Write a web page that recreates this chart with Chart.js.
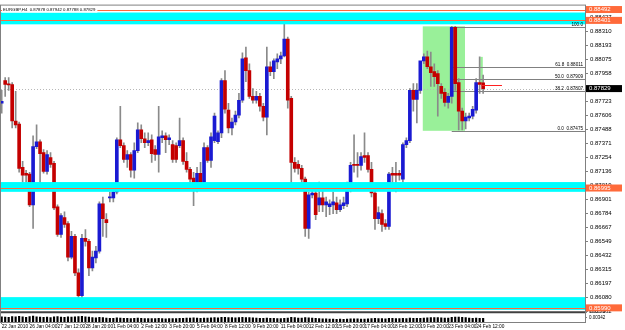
<!DOCTYPE html>
<html><head><meta charset="utf-8">
<script src="https://cdn.jsdelivr.net/npm/chart.js@4.4.1/dist/chart.umd.min.js"></script>
<style>html,body{margin:0;padding:0;background:#fff;overflow:hidden}</style>
</head><body>
<canvas id="c" width="625" height="330"></canvas>
<script>
const chartTitle = "EURGBP,H4  0.87878 0.87942 0.87788 0.87829";
const timeTickLabels = ["22 Jan 2010","26 Jan 04:00","27 Jan 12:00","28 Jan 20:00","1 Feb 04:00","2 Feb 12:00","3 Feb 20:00","5 Feb 04:00","8 Feb 12:00","9 Feb 20:00","11 Feb 04:00","12 Feb 12:00","15 Feb 20:00","17 Feb 04:00","18 Feb 12:00","19 Feb 20:00","23 Feb 04:00","24 Feb 12:00"];
const priceTickValues = [0.88427,0.88310,0.88193,0.88075,0.87958,0.87841,0.87723,0.87606,0.87488,0.87371,0.87254,0.87136,0.87019,0.86901,0.86784,0.86667,0.86549,0.86432,0.86315,0.86197,0.86080,0.85962];
const indicatorTickValues = [0.00771,0.00342];

const opens = [0.87706,0.87896,0.87863,0.87863,0.87557,0.87532,0.87168,0.87119,0.87111,0.86854,
0.87342,0.87383,0.87292,0.87135,0.87251,0.87202,0.86838,0.86606,0.86747,0.86697,
0.86416,0.86590,0.86284,0.86093,0.86573,0.86548,0.86325,0.86408,0.86466,0.86862,
0.86730,0.86912,0.86912,0.86962,0.87400,0.87350,0.87235,0.87276,0.87144,0.87309,
0.87483,0.87408,0.87375,0.87400,0.87317,0.87276,0.87417,0.87433,0.87400,0.87359,
0.87350,0.87350,0.87392,0.87218,0.87152,0.87078,0.86978,0.87119,0.87044,0.87334,
0.87226,0.87392,0.87383,0.87458,0.87896,0.87648,0.87499,0.87549,0.87607,0.87731,
0.88086,0.87979,0.87764,0.87731,0.87764,0.87681,0.87590,0.88012,0.87971,0.88053,
0.88078,0.88103,0.88244,0.87747,0.87210,0.87193,0.87160,0.87069,0.86656,0.86937,
0.86953,0.86854,0.86912,0.86854,0.86838,0.86854,0.86871,0.86813,0.86846,0.86862,
0.87003,0.87193,0.87193,0.87185,0.87268,0.87268,0.87152,0.86953,0.86738,0.86780,
0.86697,0.86672,0.87119,0.87119,0.87119,0.87069,0.87359,0.87392,0.87814,0.87739,
0.87814,0.88062,0.88095,0.88012,0.87971,0.87954,0.87847,0.87797,0.87714,0.87764,
0.88343,0.87880,0.87640,0.87557,0.87582,0.87598,0.87648,0.87880,0.87878];
const highs = [0.87814,0.87921,0.87921,0.87880,0.87805,0.87549,0.87218,0.87144,0.87127,0.87433,
0.87524,0.87400,0.87317,0.87309,0.87292,0.87218,0.86854,0.86780,0.86796,0.86714,
0.86631,0.86606,0.86317,0.86606,0.86647,0.86565,0.86466,0.86507,0.86879,0.86920,
0.86780,0.86962,0.87003,0.87417,0.87681,0.87375,0.87309,0.87292,0.87375,0.87541,
0.87524,0.87458,0.87458,0.87441,0.87350,0.87681,0.87474,0.87458,0.87441,0.87392,
0.87375,0.87582,0.87417,0.87292,0.87168,0.87127,0.87168,0.87210,0.87375,0.87350,
0.87458,0.87623,0.87475,0.87913,0.87979,0.87706,0.87582,0.87640,0.87789,0.88128,
0.88177,0.88037,0.87830,0.87805,0.87789,0.87706,0.88177,0.88053,0.88078,0.88120,
0.88136,0.88401,0.88260,0.87764,0.87251,0.87226,0.87185,0.87086,0.86962,0.87003,
0.86978,0.87044,0.87003,0.86920,0.86895,0.86962,0.86920,0.86895,0.86920,0.87044,
0.87210,0.87441,0.87292,0.87292,0.87458,0.87292,0.87210,0.87003,0.86838,0.86813,
0.86730,0.87127,0.87168,0.87210,0.87144,0.87375,0.87417,0.87830,0.87871,0.87871,
0.88012,0.88120,0.88144,0.88136,0.88037,0.87979,0.87871,0.87830,0.87789,0.88351,
0.88351,0.87913,0.87665,0.87623,0.87623,0.87681,0.87913,0.88095,0.87942];
const lows = [0.87623,0.87764,0.87814,0.87499,0.87499,0.87127,0.87044,0.87044,0.86838,0.86656,
0.87326,0.86987,0.87119,0.87111,0.87168,0.86813,0.86590,0.86581,0.86664,0.86383,
0.86400,0.86259,0.86052,0.86052,0.86507,0.86259,0.86300,0.86366,0.86449,0.86590,
0.86581,0.86879,0.86879,0.86945,0.87334,0.87210,0.87168,0.87086,0.87078,0.87292,
0.87375,0.87334,0.87350,0.87210,0.87226,0.87127,0.87375,0.87292,0.87359,0.87210,
0.87210,0.87334,0.87193,0.87127,0.87044,0.86846,0.86962,0.87020,0.87028,0.87210,
0.87168,0.87375,0.87367,0.87417,0.87623,0.87458,0.87441,0.87524,0.87582,0.87714,
0.87888,0.87747,0.87706,0.87706,0.87640,0.87557,0.87441,0.87938,0.87913,0.87995,
0.88037,0.88095,0.87665,0.86987,0.87127,0.87111,0.87044,0.86590,0.86573,0.86912,
0.86730,0.86796,0.86796,0.86755,0.86771,0.86780,0.86780,0.86796,0.86821,0.86838,
0.86962,0.87127,0.87086,0.87144,0.87210,0.87127,0.86920,0.86647,0.86697,0.86631,
0.86647,0.86647,0.87003,0.86962,0.87061,0.87044,0.87334,0.87375,0.87640,0.87541,
0.87789,0.88037,0.87995,0.87847,0.87847,0.87598,0.87747,0.87681,0.87665,0.87706,
0.87814,0.87483,0.87483,0.87491,0.87557,0.87574,0.87623,0.87789,0.87788];
const closes = [0.87723,0.87863,0.87860,0.87557,0.87524,0.87160,0.87102,0.87102,0.86854,0.87342,
0.87383,0.87284,0.87135,0.87276,0.87193,0.86829,0.86606,0.86763,0.86689,0.86416,
0.86590,0.86284,0.86093,0.86573,0.86548,0.86325,0.86416,0.86466,0.86862,0.86738,
0.86705,0.86915,0.86962,0.87400,0.87350,0.87235,0.87276,0.87144,0.87309,0.87483,
0.87408,0.87375,0.87392,0.87284,0.87276,0.87425,0.87433,0.87400,0.87417,0.87235,
0.87235,0.87392,0.87218,0.87152,0.87069,0.86987,0.87119,0.87044,0.87334,0.87226,
0.87425,0.87598,0.87458,0.87896,0.87656,0.87499,0.87549,0.87607,0.87731,0.88078,
0.87979,0.87764,0.87731,0.87764,0.87681,0.87590,0.88012,0.87971,0.88062,0.88078,
0.88103,0.88244,0.87731,0.87210,0.87160,0.87160,0.87069,0.86656,0.86937,0.86953,
0.86771,0.86912,0.86854,0.86879,0.86862,0.86879,0.86813,0.86854,0.86871,0.87003,
0.87185,0.87185,0.87185,0.87259,0.87251,0.87152,0.86953,0.86738,0.86788,0.86689,
0.86672,0.87111,0.87102,0.87102,0.87102,0.87359,0.87392,0.87814,0.87739,0.87814,
0.88062,0.88095,0.88012,0.87962,0.87929,0.87871,0.87789,0.87714,0.87764,0.88343,
0.87871,0.87640,0.87557,0.87590,0.87598,0.87656,0.87880,0.87863,0.87829];
const indicatorValues = [0.0040,0.0038,0.0036,0.0042,0.0040,0.0045,0.0041,0.0037,0.0043,0.0046,
0.0040,0.0039,0.0036,0.0038,0.0035,0.0040,0.0042,0.0039,0.0036,0.0041,0.0038,
0.0040,0.0043,0.0045,0.0040,0.0038,0.0035,0.0033,0.0036,0.0034,0.0031,
0.0030,0.0029,0.0033,0.0032,0.0030,0.0029,0.0028,0.0030,0.0031,0.0029,
0.0028,0.0027,0.0028,0.0027,0.0029,0.0028,0.0026,0.0027,0.0028,0.0027,
0.0029,0.0030,0.0031,0.0032,0.0033,0.0031,0.0030,0.0032,0.0031,0.0033,
0.0034,0.0033,0.0036,0.0037,0.0035,0.0034,0.0033,0.0034,0.0036,0.0035,
0.0034,0.0033,0.0031,0.0030,0.0029,0.0031,0.0030,0.0029,0.0028,0.0027,
0.0029,0.0032,0.0036,0.0034,0.0032,0.0031,0.0034,0.0033,0.0031,0.0030,
0.0028,0.0026,0.0025,0.0024,0.0023,0.0022,0.0023,0.0022,0.0024,0.0025,
0.0026,0.0025,0.0024,0.0023,0.0025,0.0027,0.0029,0.0028,0.0027,0.0026,
0.0030,0.0029,0.0028,0.0027,0.0029,0.0028,0.0031,0.0030,0.0029,0.0030,
0.0031,0.0033,0.0034,0.0035,0.0034,0.0033,0.0032,0.0031,0.0036,0.0039,
0.0038,0.0036,0.0034,0.0032,0.0030,0.0031,0.0030,0.0029];

// horizontal zones (price ranges) and lines
const zoneBands = [[0.88368,0.88467],[0.86963,0.87045],[0.85973,0.86080]];
const zoneMidLines = [0.88401,0.86995,0.85990];
const topOrangeLine = 0.88492;
const bidPrice = 0.87829;
const markedLevels = [0.88492,0.88401,0.86995,0.85990];
// fibonacci
const fibStartBar = 129;
const fibHigh = 0.88343, fibLow = 0.87475;
const fibRatios = [100.0,61.8,50.0,38.2,0.0];
// green rectangles [barFrom, barTo, priceTop, priceBottom]
const greenBoxes = [[120.7,132.8,0.88351,0.87475],[137.2,137.9,0.88095,0.87871]];
// red arrow segment [barFrom, barTo, price]
const redMarker = [137.6,143.4,0.87855];

const BLUE = '#1a1ad2', RED = '#c40000', WICK = '#8a8a8a', FONT = 'Liberation Sans, Arial, sans-serif';
const idx = opens.map((_, i) => i);
const bodyData = idx.map(i => ({x: i, y: [opens[i], closes[i]]}));
const wickData = idx.map(i => ({x: i, y: [lows[i], highs[i]]}));
const indData = idx.map(i => ({x: i, y: indicatorValues[i]}));
const bodyColors = idx.map(i => closes[i] >= opens[i] ? BLUE : RED);

const mt4 = {
  id: 'mt4',
  beforeDatasetsDraw(chart) {
    const {ctx, chartArea: a, scales: {x, y}} = chart;
    const W = a.right - a.left;
    ctx.save();
    ctx.beginPath(); ctx.rect(a.left, y.top, W, y.bottom - y.top); ctx.clip();
    ctx.fillStyle = '#99f099';
    for (const [b0, b1, pt, pb] of greenBoxes) {
      const x0 = x.getPixelForValue(b0), x1 = x.getPixelForValue(b1);
      const y0 = y.getPixelForValue(pt), y1 = y.getPixelForValue(pb);
      ctx.fillRect(x0, y0, x1 - x0, y1 - y0);
    }
    ctx.strokeStyle = '#808080'; ctx.lineWidth = 1;
    const fx = x.getPixelForValue(fibStartBar);
    for (const r of fibRatios) {
      const p = fibLow + (fibHigh - fibLow) * r / 100;
      const py = Math.round(y.getPixelForValue(p)) + 0.5;
      ctx.beginPath(); ctx.moveTo(fx, py); ctx.lineTo(a.right, py); ctx.stroke();
    }
    ctx.strokeStyle = '#b8b8b8'; ctx.setLineDash([1, 2]);
    const by = Math.round(y.getPixelForValue(bidPrice)) + 0.5;
    ctx.beginPath(); ctx.moveTo(a.left, by); ctx.lineTo(a.right, by); ctx.stroke();
    ctx.setLineDash([]);
    ctx.restore();
  },
  afterDatasetsDraw(chart) {
    const {ctx, chartArea: a, scales: {x, y}} = chart;
    const W = a.right - a.left;
    ctx.save();
    ctx.beginPath(); ctx.rect(a.left, y.top, W, y.bottom - y.top); ctx.clip();
    ctx.fillStyle = '#00ffff';
    for (const [lo, hi] of zoneBands) {
      const y0 = y.getPixelForValue(hi), y1 = y.getPixelForValue(lo);
      ctx.fillRect(a.left, y0, W, y1 - y0);
    }
    ctx.strokeStyle = '#ff6a3a'; ctx.lineWidth = 1;
    for (const p of [topOrangeLine, ...zoneMidLines]) {
      const py = Math.round(y.getPixelForValue(p)) + 0.5;
      ctx.beginPath(); ctx.moveTo(a.left, py); ctx.lineTo(a.right, py); ctx.stroke();
    }
    ctx.strokeStyle = '#ff2020';
    const ry = Math.round(y.getPixelForValue(redMarker[2])) + 0.5;
    ctx.beginPath(); ctx.moveTo(x.getPixelForValue(redMarker[0]), ry); ctx.lineTo(x.getPixelForValue(redMarker[1]), ry); ctx.stroke();
    ctx.fillStyle = '#000'; ctx.font = '4.6px ' + FONT; ctx.textAlign = 'right'; ctx.textBaseline = 'bottom';
    for (const r of fibRatios) {
      const p = fibLow + (fibHigh - fibLow) * r / 100;
      const py = Math.round(y.getPixelForValue(p));
      const txt = r === 100 ? r.toFixed(1) : r.toFixed(1) + '  ' + p.toFixed(5);
      ctx.fillText(txt, a.right - 2, py);
    }
    ctx.restore();
  },
  afterDraw(chart) {
    const {ctx, chartArea: a, scales: {x, y}} = chart;
    ctx.save();
    ctx.strokeStyle = '#808080'; ctx.lineWidth = 1;
    ctx.strokeRect(a.left - 0.5, a.top - 0.5, a.right - a.left + 1, a.bottom - a.top + 1);
    ctx.strokeStyle = '#404040'; ctx.lineWidth = 2;
    ctx.beginPath(); ctx.moveTo(a.left, y.bottom); ctx.lineTo(a.right, y.bottom); ctx.stroke();
    ctx.font = '4.3px ' + FONT; ctx.textAlign = 'left'; ctx.textBaseline = 'middle';
    const tw = ctx.measureText(chartTitle).width;
    ctx.fillStyle = '#fff'; ctx.fillRect(a.left + 1, a.top + 1, tw + 3, 6);
    ctx.fillStyle = '#000';
    ctx.fillText(chartTitle, a.left + 2, a.top + 4);
    ctx.font = '6px ' + FONT;
    const boxes = markedLevels.map(p => [p, '#ff6a3a']).concat([[bidPrice, '#000000']]);
    for (const [p, col] of boxes) {
      const py = y.getPixelForValue(p);
      ctx.fillStyle = col; ctx.fillRect(a.right + 1, py - 3.5, 36, 7);
      ctx.fillStyle = '#fff'; ctx.fillText(p.toFixed(5), a.right + 4, py);
    }
    ctx.restore();
  }
};

new Chart(document.getElementById('c'), {
  type: 'bar',
  data: { datasets: [
    {data: bodyData, backgroundColor: bodyColors, barThickness: 3, grouped: false, minBarLength: 1, yAxisID: 'y'},
    {data: wickData, backgroundColor: WICK, barThickness: 1, grouped: false, yAxisID: 'y'},
    {data: indData, backgroundColor: '#000000', barThickness: 1.5, grouped: false, yAxisID: 'y2'}
  ]},
  options: {
    responsive: false, animation: false,
    layout: {padding: {left: 1, top: 1, right: 0, bottom: 0}},
    plugins: {legend: {display: false}, tooltip: {enabled: false}},
    scales: {
      x: {type: 'linear', offset: false, min: -0.2, max: 167.2, position: 'bottom',
        afterBuildTicks: s => { s.ticks = timeTickLabels.map((_, k) => ({value: k * 8})); },
        ticks: {callback: (v, i) => timeTickLabels[i], align: 'start', font: {size: 4.8, family: FONT}, color: '#000', padding: 0, maxRotation: 0, autoSkip: false},
        grid: {offset: false, drawOnChartArea: false, tickLength: 2, color: '#808080'},
        border: {display: false},
        afterFit: s => { s.height = 8; }
      },
      y: {position: 'right', stack: 'win', stackWeight: 311, min: 0.85954, max: 0.88525,
        afterBuildTicks: s => { s.ticks = priceTickValues.map(v => ({value: v})); },
        ticks: {callback: v => v.toFixed(5), font: {size: 6, family: FONT}, color: '#000', padding: 2, autoSkip: false},
        grid: {drawOnChartArea: false, tickLength: 3, color: '#808080'},
        border: {display: true, color: '#808080'},
        afterFit: s => { s.width = 40; }
      },
      y2: {position: 'right', stack: 'win', stackWeight: 10, min: 0, max: 0.0078,
        afterBuildTicks: s => { s.ticks = indicatorTickValues.map(v => ({value: v})); },
        ticks: {callback: v => v.toFixed(5), font: {size: 4.5, family: FONT}, color: '#000', padding: 2, autoSkip: false},
        grid: {drawOnChartArea: false, tickLength: 2, color: '#808080'},
        border: {display: true, color: '#808080'},
        afterFit: s => { s.width = 40; }
      }
    }
  },
  plugins: [mt4]
});
</script>
</body></html>
